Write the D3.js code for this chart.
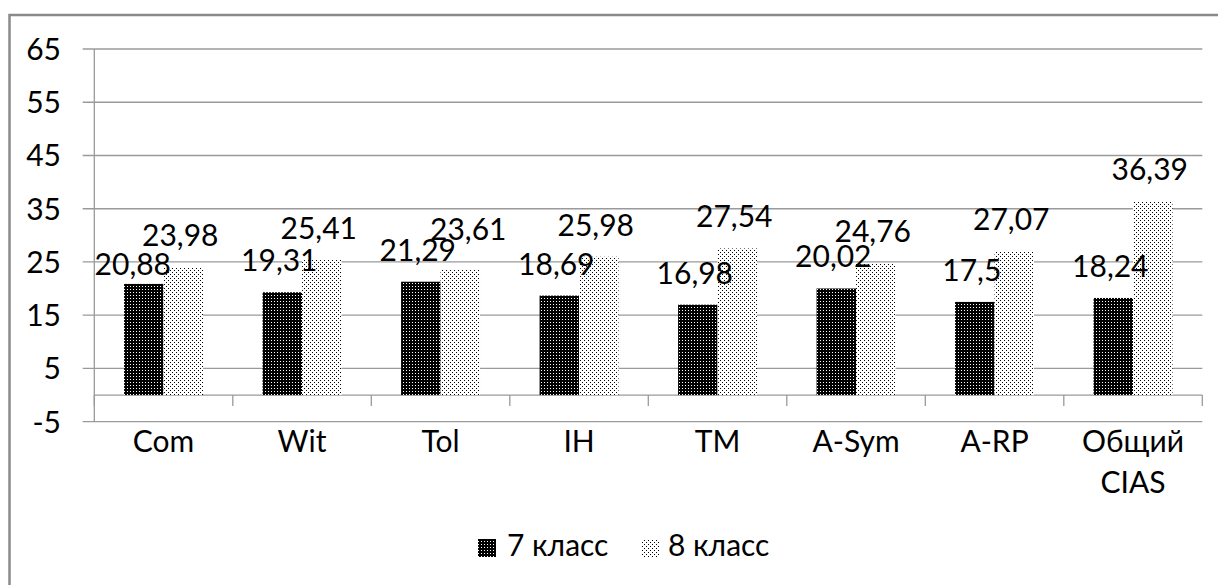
<!DOCTYPE html>
<html>
<head>
<meta charset="utf-8">
<script src="https://cdn.jsdelivr.net/npm/d3@7/dist/d3.min.js"></script>
<style>
  html, body { margin: 0; padding: 0; background: #fff; }
  svg { display: block; }
  text { font-family: Lato, "Open Sans", "Noto Sans", sans-serif; fill: #000; }
</style>
</head>
<body>
<svg id="chart" width="1218" height="585"></svg>
<script>
// ---- data ----
const categories = ["Com", "Wit", "Tol", "IH", "TM", "A-Sym", "A-RP", "Общий\nCIAS"];
const seriesNames = ["7 класс", "8 класс"];
const values7 = [20.88, 19.31, 21.29, 18.69, 16.98, 20.02, 17.5, 18.24];
const values8 = [23.98, 25.41, 23.61, 25.98, 27.54, 24.76, 27.07, 36.39];
const yTickValues = [-5, 5, 15, 25, 35, 45, 55, 65];

// ---- layout ----
const svg = d3.select("#chart");
const W = 1218, H = 585;
const plot = { left: 94.3, right: 1202.3, top: 49, bottom: 421.7 };
const fontSize = 30;
const gridColor = "#9a9a9a";

// manual label nudges (dx, dy in px) as in the original picture
const labelNudge = { "0-0": [-8, 12], "1-2": [11, -8] };

// patterns
const defs = svg.append("defs");
const pDark = defs.append("pattern").attr("id", "pDark")
  .attr("width", 3).attr("height", 3).attr("patternUnits", "userSpaceOnUse");
pDark.append("rect").attr("width", 3).attr("height", 3).attr("fill", "#000");
pDark.append("rect").attr("x", 1).attr("y", 1).attr("width", 1).attr("height", 1).attr("fill", "#fff");

const pLight = defs.append("pattern").attr("id", "pLight")
  .attr("width", 4).attr("height", 4).attr("patternUnits", "userSpaceOnUse");
pLight.append("rect").attr("width", 4).attr("height", 4).attr("fill", "#fff");
pLight.append("rect").attr("x", 0).attr("y", 0).attr("width", 1).attr("height", 1).attr("fill", "#000");
pLight.append("rect").attr("x", 2).attr("y", 2).attr("width", 1).attr("height", 1).attr("fill", "#000");

const fills = ["url(#pDark)", "url(#pLight)"];

// outer border
svg.append("rect").attr("x", 9.5).attr("y", 15).attr("width", W + 20).attr("height", H + 20)
  .attr("fill", "#fff").attr("stroke", "#8a8a8a").attr("stroke-width", 2.5);

// scales
const y = d3.scaleLinear().domain([-5, 65]).range([plot.bottom, plot.top]);
const x0 = d3.scaleBand().domain(categories).range([plot.left, plot.right])
  .paddingInner(0.43).paddingOuter(0.215);
const x1 = d3.scaleBand().domain([0, 1]).range([0, x0.bandwidth()]);
const xb = d3.scaleLinear().domain([0, categories.length]).range([plot.left, plot.right]);

// gridlines
svg.append("g").selectAll("line").data(yTickValues).join("line")
  .attr("x1", plot.left - 11.6).attr("x2", plot.right)
  .attr("y1", d => y(d)).attr("y2", d => y(d))
  .attr("stroke", gridColor).attr("stroke-width", 1.3);

// y labels
svg.append("g").selectAll("text").data(yTickValues).join("text")
  .attr("x", 61).attr("y", d => y(d)).attr("dy", "0.36em")
  .attr("text-anchor", "end").attr("font-size", fontSize)
  .text(d => d);

// vertical axis
svg.append("line").attr("x1", plot.left).attr("x2", plot.left)
  .attr("y1", plot.top).attr("y2", plot.bottom)
  .attr("stroke", gridColor).attr("stroke-width", 1.3);

// zero line with category ticks
svg.append("line").attr("x1", plot.left).attr("x2", plot.right)
  .attr("y1", y(0)).attr("y2", y(0)).attr("stroke", gridColor).attr("stroke-width", 1.3);
svg.append("g").selectAll("line").data(d3.range(categories.length + 1)).join("line")
  .attr("x1", d => xb(d)).attr("x2", d => xb(d))
  .attr("y1", y(0)).attr("y2", y(0) + 11)
  .attr("stroke", gridColor).attr("stroke-width", 1.3);

// bars
const allSeries = [values7, values8];
const barData = [];
categories.forEach((c, i) => {
  allSeries.forEach((vals, s) => barData.push({ c, i, s, v: vals[i] }));
});

svg.append("g").selectAll("rect").data(barData).join("rect")
  .attr("x", d => x0(d.c) + x1(d.s))
  .attr("width", x1.bandwidth())
  .attr("y", d => Math.min(y(d.v), y(0)))
  .attr("height", d => Math.abs(y(0) - y(d.v)))
  .attr("fill", d => fills[d.s]);

// value labels
svg.append("g").selectAll("text").data(barData).join("text")
  .attr("x", d => x0(d.c) + x1(d.s) + x1.bandwidth() / 2 - 3 + (labelNudge[d.s + "-" + d.i] || [0, 0])[0])
  .attr("y", d => y(d.v) - 21 + (labelNudge[d.s + "-" + d.i] || [0, 0])[1])
  .attr("text-anchor", "middle").attr("font-size", fontSize)
  .text(d => String(d.v).replace(".", ","));

// category labels
const catG = svg.append("g").selectAll("text").data(categories).join("text")
  .attr("x", d => x0(d) + x0.bandwidth() / 2)
  .attr("y", 451.5)
  .attr("text-anchor", "middle").attr("font-size", fontSize);
catG.each(function (d) {
  const lines = d.split("\n");
  d3.select(this).selectAll("tspan").data(lines).join("tspan")
    .attr("x", x0(d) + x0.bandwidth() / 2)
    .attr("dy", (l, k) => k === 0 ? 0 : 41)
    .text(l => l);
});

// legend
const legendItems = [
  { name: seriesNames[0], sx: 478, tx: 507 },
  { name: seriesNames[1], sx: 641, tx: 668 }
];
const lg = svg.append("g").selectAll("g").data(legendItems).join("g");
lg.append("rect").attr("x", d => d.sx).attr("y", 539).attr("width", 18).attr("height", 18)
  .attr("fill", (d, k) => fills[k]);
lg.append("text").attr("x", d => d.tx).attr("y", 556).attr("font-size", fontSize)
  .text(d => d.name);
</script>
</body>
</html>
